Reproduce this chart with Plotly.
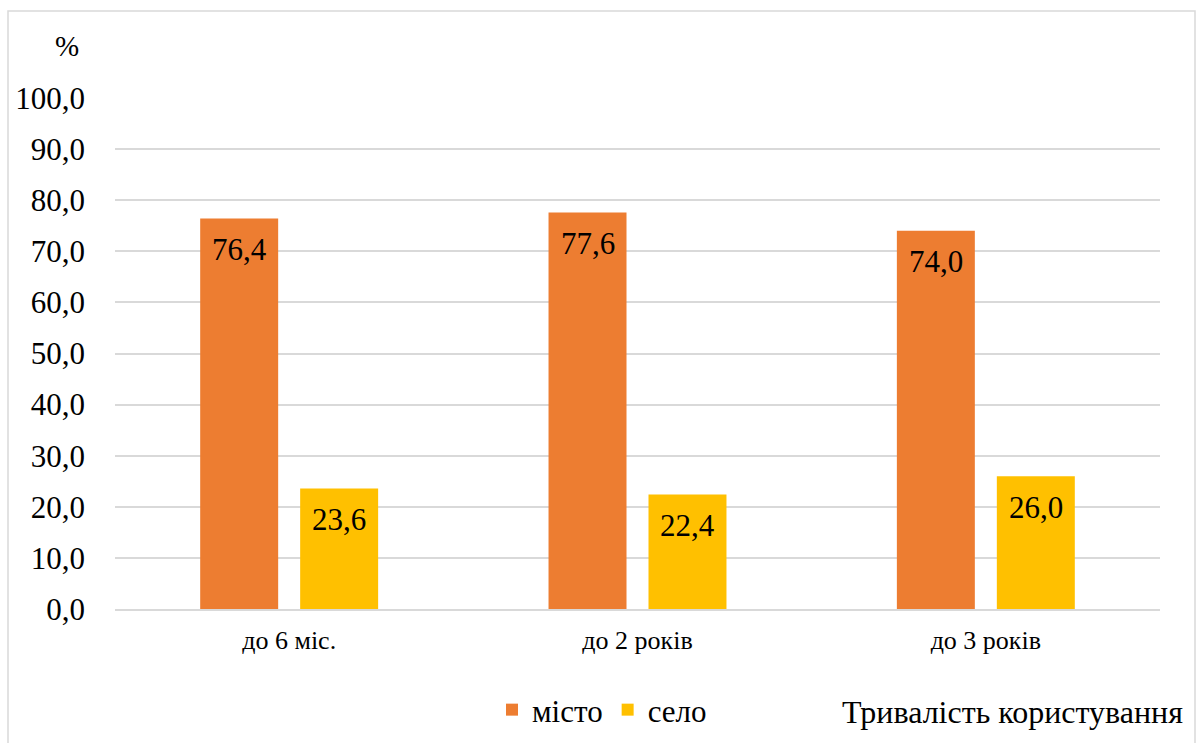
import plotly.graph_objects as go

categories = ["до 6 міс.", "до 2 років", "до 3 років"]
misto = [76.4, 77.6, 74.0]
selo = [23.6, 22.4, 26.0]
series_names = ["місто", "село"]
y_ticks = [0, 10, 20, 30, 40, 50, 60, 70, 80, 90, 100]

SERIF = "Liberation Serif"

def fmt(v):
    return f"{v:.1f}".replace(".", ",")

fig = go.Figure()
for name, vals, color in [(series_names[0], misto, "#ED7D31"), (series_names[1], selo, "#FFC000")]:
    fig.add_trace(go.Bar(
        x=categories, y=vals, name=name,
        marker=dict(color=color, line=dict(width=0)),
    ))

L, R, T, B = 115, 1160, 98, 609
W, H = 1202, 743
def px_x(p):
    return (p - L) / (R - L)
def px_y(p):
    return (B - p) / (B - T)

annotations = []
for vals, xs in [(misto, -50), (selo, 50)]:
    for c, v in zip(categories, vals):
        annotations.append(dict(
            x=c, y=v, xref="x", yref="y", text=fmt(v), showarrow=False,
            xanchor="center", yanchor="middle", xshift=xs, yshift=-31,
            font=dict(family=SERIF, size=31, color="black"),
        ))
annotations += [
    dict(text="%", xref="paper", yref="paper", x=px_x(67), y=px_y(46),
         xanchor="center", yanchor="middle", showarrow=False,
         font=dict(family=SERIF, size=29, color="black")),
    dict(text="Тривалість користування", xref="paper", yref="paper",
         x=px_x(1185), y=px_y(712), xanchor="right", yanchor="middle",
         showarrow=False, font=dict(family=SERIF, size=32, color="black")),
]

fig.update_layout(
    width=W, height=H,
    margin=dict(l=L, r=W - R, t=T, b=H - B, autoexpand=False),
    paper_bgcolor="white", plot_bgcolor="white",
    separators=", ",
    barmode="group", bargap=0.426, bargroupgap=0.22,
    font=dict(family=SERIF, color="black"),
    showlegend=True,
    legend=dict(
        orientation="h", x=px_x(492), y=px_y(710),
        xanchor="left", yanchor="middle",
        font=dict(family=SERIF, size=31, color="black"),
        bgcolor="rgba(0,0,0,0)", traceorder="normal",
    ),
    xaxis=dict(
        showgrid=False, showline=True, linecolor="#d9d9d9", linewidth=1.5,
        ticks="", tickfont=dict(family=SERIF, size=26, color="black"),
        ticklabelstandoff=7,
    ),
    yaxis=dict(
        range=[0, 100], tickvals=y_ticks, tickformat=".1f",
        showgrid=True, gridcolor="#d9d9d9", gridwidth=1.5,
        zeroline=False, showline=False, ticks="",
        tickfont=dict(family=SERIF, size=31, color="black"),
        ticklabelstandoff=29,
    ),
    shapes=[dict(
        type="rect", xref="paper", yref="paper",
        x0=px_x(8), x1=px_x(1195), y0=px_y(760), y1=px_y(11),
        line=dict(color="#d9d9d9", width=1.5), fillcolor="rgba(0,0,0,0)", layer="below",
    )],
    annotations=annotations,
)

fig.write_html("out.html")
